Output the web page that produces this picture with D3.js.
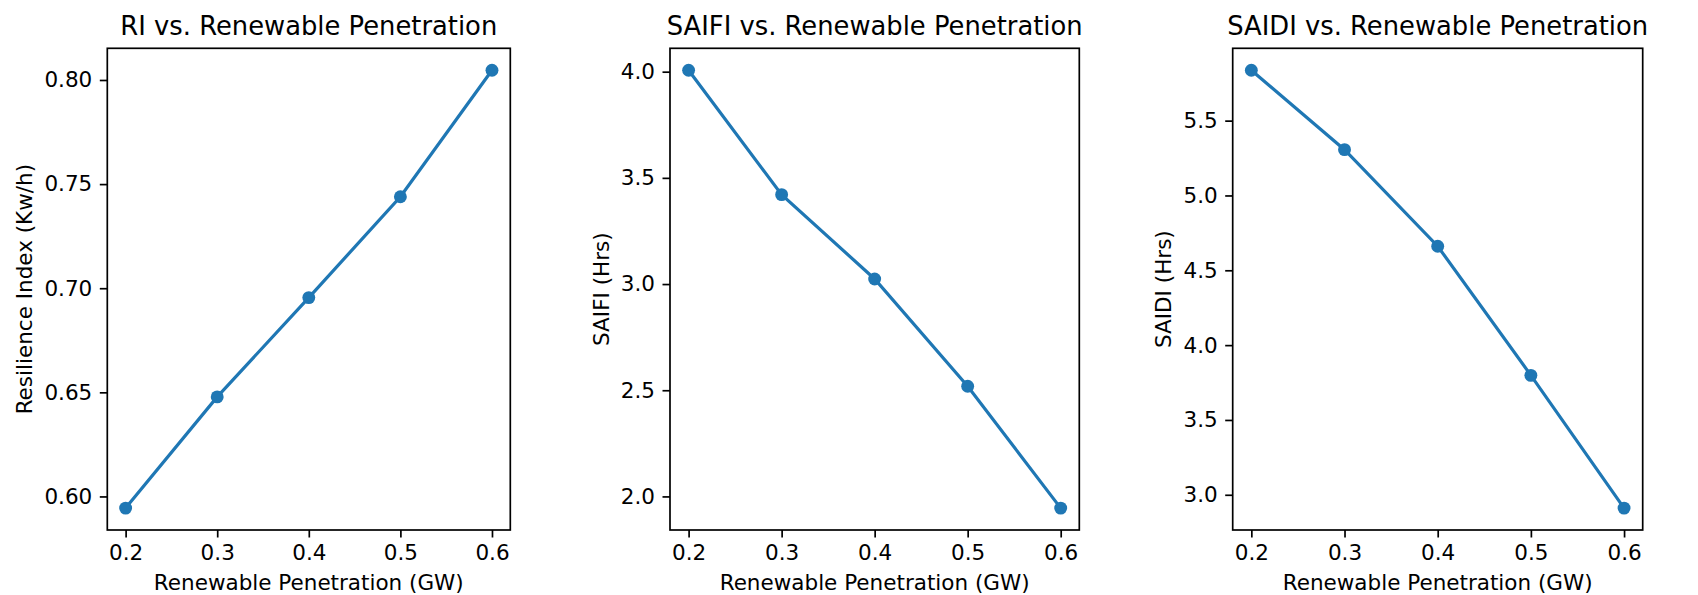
<!DOCTYPE html>
<html>
<head>
<meta charset="utf-8">
<script src="https://cdn.jsdelivr.net/npm/d3@7"></script>
<style>
	body { margin: 0; background: #fff; }
	text { font-family: "DejaVu Sans", sans-serif; fill: #000; }
</style>
</head>
<body>
<div id="chart"></div>
<script>
// Data
var penetration = [0.2, 0.3, 0.4, 0.5, 0.6];
var resilienceIndex = [0.5944, 0.6478, 0.6955, 0.7439, 0.8047];
var saifi = [4.007, 3.421, 3.024, 2.519, 1.945];
var saidi = [5.837, 5.306, 4.661, 3.798, 2.911];

var xTicks = [0.2, 0.3, 0.4, 0.5, 0.6];
var riTicks = [0.60, 0.65, 0.70, 0.75, 0.80];
var saifiTicks = [2.0, 2.5, 3.0, 3.5, 4.0];
var saidiTicks = [3.0, 3.5, 4.0, 4.5, 5.0, 5.5];

var titles = ["RI vs. Renewable Penetration", "SAIFI vs. Renewable Penetration", "SAIDI vs. Renewable Penetration"];
var yLabels = ["Resilience Index (Kw/h)", "SAIFI (Hrs)", "SAIDI (Hrs)"];
var xLabel = "Renewable Penetration (GW)";

var WIDTH = 1698, HEIGHT = 595;
var svg = d3.select("#chart").append("svg")
	.attr("width", WIDTH)
	.attr("height", HEIGHT);

// LinePanel Visualization
LinePanel = function(_svg, _data, _opts){
	this.svg = _svg;
	this.data = _data;
	this.opts = _opts;

	this.initVis();
};

LinePanel.prototype.initVis = function() {
	var vis = this;
	var o = vis.opts;

	vis.top = 48.3;
	vis.bottom = 530;
	vis.tickLen = 7.5;
	vis.tickPad = 7.5;
	vis.fontSize = 21.5;

	vis.g = vis.svg.append("g");

	// pad domains by 5% like matplotlib
	var xExt = d3.extent(vis.data, function(d){ return d.x; });
	var yExt = d3.extent(vis.data, function(d){ return d.y; });
	var xm = (xExt[1] - xExt[0]) * 0.05, ym = (yExt[1] - yExt[0]) * 0.05;

	vis.x = d3.scaleLinear()
		.domain([xExt[0] - xm, xExt[1] + xm])
		.range([o.left, o.right]);
	vis.y = d3.scaleLinear()
		.domain([yExt[0] - ym, yExt[1] + ym])
		.range([vis.bottom, vis.top]);

	vis.wrangleData();
};

LinePanel.prototype.wrangleData = function() {
	var vis = this;
	vis.displayData = vis.data;
	vis.updateVis();
};

LinePanel.prototype.updateVis = function() {
	var vis = this;
	var o = vis.opts;

	var xAxis = d3.axisBottom(vis.x)
		.tickValues(o.xTicks)
		.tickFormat(d3.format(".1f"))
		.tickSize(vis.tickLen)
		.tickPadding(vis.tickPad);
	var yAxis = d3.axisLeft(vis.y)
		.tickValues(o.yTicks)
		.tickFormat(d3.format(o.yFormat))
		.tickSize(vis.tickLen)
		.tickPadding(vis.tickPad);

	var gx = vis.g.append("g")
		.attr("transform", "translate(0," + vis.bottom + ")")
		.call(xAxis);
	var gy = vis.g.append("g")
		.attr("transform", "translate(" + o.left + ",0)")
		.call(yAxis);

	[gx, gy].forEach(function(ax){
		ax.select(".domain").remove();
		ax.selectAll(".tick line").attr("stroke", "#000").attr("stroke-width", 1.7);
		ax.selectAll(".tick text")
			.attr("font-family", "DejaVu Sans")
			.attr("font-size", vis.fontSize)
			.attr("fill", "#000");
	});

	// line and markers
	var line = d3.line()
		.x(function(d){ return vis.x(d.x); })
		.y(function(d){ return vis.y(d.y); });

	vis.g.append("path")
		.datum(vis.displayData)
		.attr("d", line)
		.attr("fill", "none")
		.attr("stroke", "#1f77b4")
		.attr("stroke-width", 3.2);

	vis.g.selectAll("circle.pt")
		.data(vis.displayData)
		.enter().append("circle")
		.attr("class", "pt")
		.attr("cx", function(d){ return vis.x(d.x); })
		.attr("cy", function(d){ return vis.y(d.y); })
		.attr("r", 6.45)
		.attr("fill", "#1f77b4");

	// frame
	vis.g.append("rect")
		.attr("x", o.left)
		.attr("y", vis.top)
		.attr("width", o.right - o.left)
		.attr("height", vis.bottom - vis.top)
		.attr("fill", "none")
		.attr("stroke", "#000")
		.attr("stroke-width", 1.7);

	var cx = (o.left + o.right) / 2;

	vis.g.append("text")
		.attr("x", cx)
		.attr("y", 34.5)
		.attr("text-anchor", "middle")
		.attr("font-size", 25.8)
		.text(o.title);

	vis.g.append("text")
		.attr("x", cx)
		.attr("y", 590)
		.attr("text-anchor", "middle")
		.attr("font-size", vis.fontSize)
		.text(xLabel);

	// y label sits left of the widest tick label
	var minX = d3.min(gy.selectAll(".tick text").nodes(), function(n){
		return n.getBoundingClientRect().left;
	});
	var ly = (vis.top + vis.bottom) / 2;
	var lx = minX - 12;
	vis.g.append("text")
		.attr("transform", "translate(" + lx + "," + ly + ") rotate(-90)")
		.attr("text-anchor", "middle")
		.attr("font-size", vis.fontSize)
		.text(o.yLabel);
};

function zipData(xs, ys) {
	return xs.map(function(x, i){ return { x: x, y: ys[i] }; });
}

var panels = [
	new LinePanel(svg, zipData(penetration, resilienceIndex), {
		left: 107.3, right: 510.3, xTicks: xTicks, yTicks: riTicks, yFormat: ".2f",
		title: titles[0], yLabel: yLabels[0] }),
	new LinePanel(svg, zipData(penetration, saifi), {
		left: 670, right: 1079.3, xTicks: xTicks, yTicks: saifiTicks, yFormat: ".1f",
		title: titles[1], yLabel: yLabels[1] }),
	new LinePanel(svg, zipData(penetration, saidi), {
		left: 1232.7, right: 1642.7, xTicks: xTicks, yTicks: saidiTicks, yFormat: ".1f",
		title: titles[2], yLabel: yLabels[2] })
];
</script>
</body>
</html>
